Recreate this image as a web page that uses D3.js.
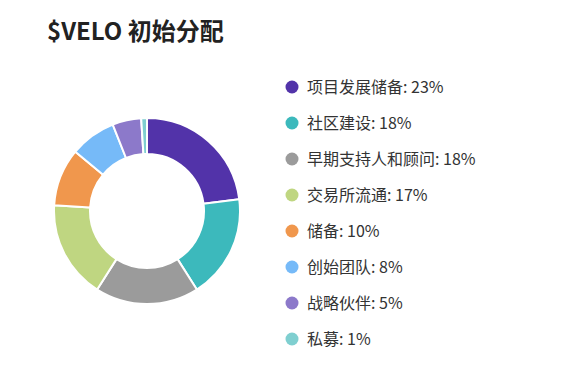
<!DOCTYPE html>
<html>
<head>
<meta charset="utf-8">
<script src="https://cdn.jsdelivr.net/npm/d3@7"></script>
<style>
  html, body { margin: 0; padding: 0; background: #fff; }
  svg text { font-family: "Noto Sans CJK SC", "Noto Sans", sans-serif; }
</style>
</head>
<body>
<div id="chart"></div>
<script>
// allocation data
var categories = ["项目发展储备", "社区建设", "早期支持人和顾问", "交易所流通", "储备", "创始团队", "战略伙伴", "私募"];
var shares = [23, 18, 18, 17, 10, 8, 5, 1];
var colors = ["#5233a9", "#3cb9bc", "#9b9b9b", "#bfd681", "#f0974d", "#76baf8", "#8c79ca", "#7fcfd0"];
var title = "$VELO 初始分配";

var width = 582, height = 383;
var cx = 147, cy = 211, outerR = 93, innerR = 57;

var data = categories.map(function (c, i) {
    return { name: c, value: shares[i], color: colors[i] };
});

var svg = d3.select("#chart").append("svg")
    .attr("width", width)
    .attr("height", height);

svg.append("text")
    .attr("x", 47)
    .attr("y", 40)
    .attr("font-size", 24)
    .attr("font-weight", "bold")
    .attr("fill", "#222")
    .text(title);

var pie = d3.pie().sort(null).value(function (d) { return d.value; });
var arc = d3.arc().innerRadius(innerR).outerRadius(outerR);

var g = svg.append("g").attr("transform", "translate(" + cx + "," + cy + ")");
g.selectAll("path")
    .data(pie(data))
    .enter().append("path")
    .attr("d", arc)
    .attr("fill", function (d) { return d.data.color; })
    .attr("stroke", "#fff")
    .attr("stroke-width", 2)
    .attr("stroke-linejoin", "round");

// legend
var y = d3.scaleBand().domain(categories).range([69, 357]);
var legend = svg.append("g");
var item = legend.selectAll("g")
    .data(data)
    .enter().append("g")
    .attr("transform", function (d) { return "translate(292," + (y(d.name) + y.bandwidth() / 2) + ")"; });
item.append("circle")
    .attr("r", 6.5)
    .attr("fill", function (d) { return d.color; });
item.append("text")
    .attr("x", 15)
    .attr("dy", "0.35em")
    .attr("font-size", 16)
    .attr("fill", "#333")
    .text(function (d) { return d.name + ": " + d.value + "%"; });
</script>
</body>
</html>
